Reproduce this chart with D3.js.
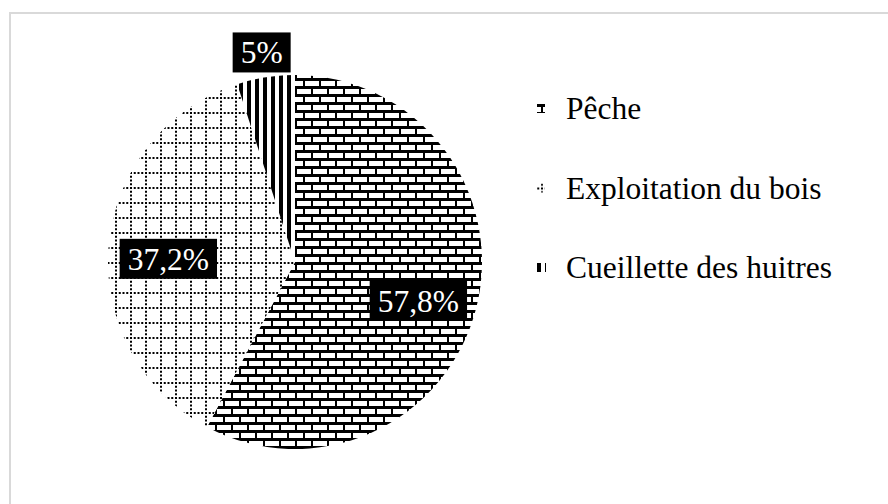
<!DOCTYPE html>
<html>
<head>
<meta charset="utf-8">
<script src="https://cdn.jsdelivr.net/npm/d3@7"></script>
<style>
  body { margin: 0; background: #fff; }
  svg { display: block; }
</style>
</head>
<body>
<div id="chart"></div>
<script>
// data
var categories = ["Pêche", "Exploitation du bois", "Cueillette des huitres"];
var values = [57.8, 37.2, 5];
var labels = ["57,8%", "37,2%", "5%"];
var patterns = ["brick", "dotgrid", "vstripe"];

var width = 888, height = 504;
var cx = 295, cy = 262, radius = 187;
var fontFamily = "'Liberation Serif', 'Times New Roman', serif";

var svg = d3.select("#chart").append("svg")
  .attr("width", width)
  .attr("height", height);

svg.append("rect")
  .attr("width", width).attr("height", height)
  .attr("fill", "#fff");

// chart border (runs off the right and bottom edge)
svg.append("rect")
  .attr("x", 10).attr("y", 13)
  .attr("width", width + 20).attr("height", height)
  .attr("fill", "none")
  .attr("stroke", "#d9d9d9")
  .attr("stroke-width", 2);

var defs = svg.append("defs");

// brick pattern
var brick = defs.append("pattern")
  .attr("id", "brick")
  .attr("patternUnits", "userSpaceOnUse")
  .attr("width", 16).attr("height", 16);
brick.append("rect").attr("width", 16).attr("height", 16).attr("fill", "#fff");
brick.append("rect").attr("x", 0).attr("y", 0).attr("width", 16).attr("height", 3).attr("fill", "#000");
brick.append("rect").attr("x", 0).attr("y", 8).attr("width", 16).attr("height", 3).attr("fill", "#000");
brick.append("rect").attr("x", 0).attr("y", 0).attr("width", 2).attr("height", 8).attr("fill", "#000");
brick.append("rect").attr("x", 8).attr("y", 8).attr("width", 2).attr("height", 8).attr("fill", "#000");

// dotted grid pattern
var dg = defs.append("pattern")
  .attr("id", "dotgrid")
  .attr("patternUnits", "userSpaceOnUse")
  .attr("width", 15).attr("height", 15);
dg.append("rect").attr("width", 15).attr("height", 15).attr("fill", "#fff");
dg.append("line").attr("x1", 0).attr("x2", 15).attr("y1", 1).attr("y2", 1)
  .attr("stroke", "#000").attr("stroke-width", 2).attr("stroke-dasharray", "2,1.75");
dg.append("line").attr("x1", 1).attr("x2", 1).attr("y1", 0).attr("y2", 15)
  .attr("stroke", "#000").attr("stroke-width", 2).attr("stroke-dasharray", "2,1.75");

// wide vertical stripes
var vs = defs.append("pattern")
  .attr("id", "vstripe")
  .attr("patternUnits", "userSpaceOnUse")
  .attr("width", 8).attr("height", 8);
vs.append("rect").attr("width", 8).attr("height", 8).attr("fill", "#fff");
vs.append("rect").attr("x", 0).attr("width", 4).attr("height", 8).attr("fill", "#000");

var pie = d3.pie().sort(null).value(d => d);
var arcs = pie(values);

var arc = d3.arc().innerRadius(0).outerRadius(radius);

var g = svg.append("g").attr("transform", `translate(${cx},${cy})`);

g.selectAll("path.slice")
  .data(arcs)
  .enter().append("path")
  .attr("class", "slice")
  .attr("d", arc)
  .attr("fill", (d, i) => `url(#${patterns[i]})`)
  .attr("stroke", "none");

// data labels: big slices inside, small ones outside
var total = d3.sum(values);
var inArc = d3.arc().innerRadius(radius * 0.68).outerRadius(radius * 0.68);
var outArc = d3.arc().innerRadius(radius * 1.14).outerRadius(radius * 1.14);

arcs.forEach(function(d, i) {
  var small = d.value / total < 0.1;
  var p = (small ? outArc : inArc).centroid(d);
  var dy = small ? 1 : 8;
  var lg = g.append("g").attr("transform", `translate(${p[0]},${p[1] + dy})`);
  var box = lg.append("rect").attr("fill", "#000");
  var t = lg.append("text")
    .attr("text-anchor", "middle")
    .attr("dy", "0.35em")
    .attr("fill", "#fff")
    .style("font-family", fontFamily)
    .style("font-size", "31.5px")
    .text(labels[i]);
  var bb = t.node().getBBox();
  box.attr("x", -bb.width / 2 - 8)
    .attr("y", -20)
    .attr("width", bb.width + 16)
    .attr("height", 40);
});

// legend
var legY = d3.scalePoint().domain(categories).range([108, 267]);
// where each swatch samples its pattern, so the little key shows a recognisable piece
var swatchPhase = [[4, 8], [11, 11], [0, 0]];
var swatchW = [8, 8, 9];

var leg = svg.append("g").selectAll("g")
  .data(categories)
  .enter().append("g")
  .attr("transform", d => `translate(537,${legY(d)})`);

leg.append("g")
  .attr("transform", (d, i) => `translate(${-swatchPhase[i][0]},${-4 - swatchPhase[i][1]})`)
  .append("rect")
  .attr("x", (d, i) => swatchPhase[i][0])
  .attr("y", (d, i) => swatchPhase[i][1])
  .attr("width", (d, i) => swatchW[i]).attr("height", 9)
  .attr("fill", (d, i) => `url(#${patterns[i]})`);

leg.append("text")
  .attr("x", 29)
  .attr("dy", "0.35em")
  .style("font-family", fontFamily)
  .style("font-size", "31.5px")
  .attr("fill", "#000")
  .text(d => d);
</script>
</body>
</html>
